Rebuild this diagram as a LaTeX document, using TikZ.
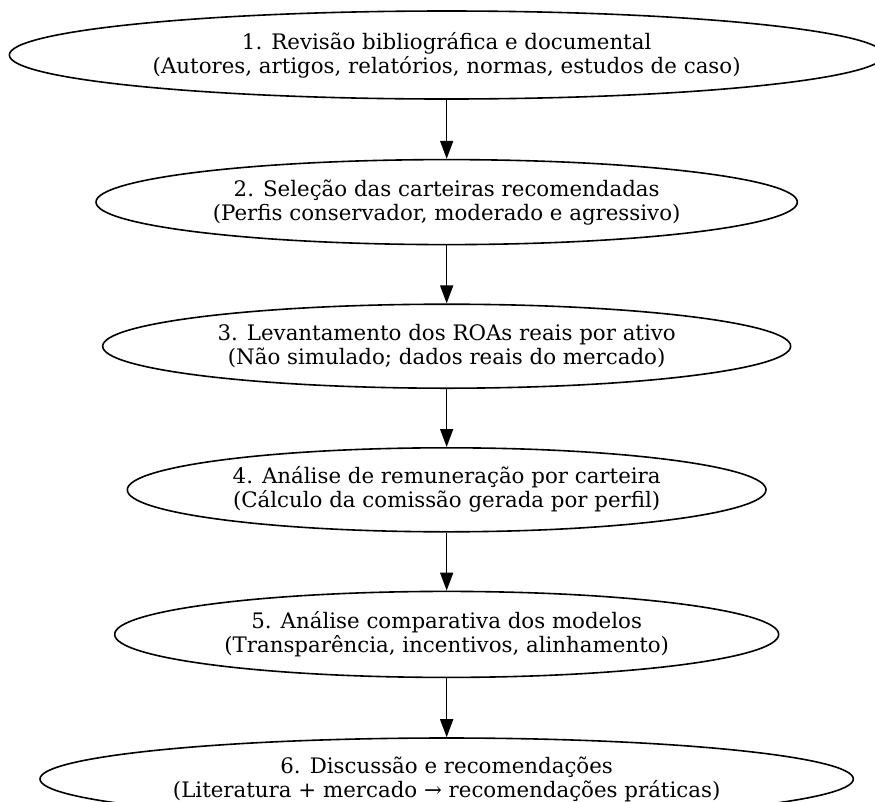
\documentclass[tikz,border=0pt]{standalone}
\usepackage{fontspec}
\setmainfont{DejaVu Serif}
\usetikzlibrary{arrows.meta,positioning,shapes.geometric}

\begin{document}
\begin{tikzpicture}[
    >={Triangle[length=13.5pt, width=9.75pt]},
    node distance=43.5pt,
    phase/.style={draw, ellipse, line width=1.2pt, inner xsep=-40pt, inner ysep=0pt, minimum height=63pt, align=center, font=\fontsize{16pt}{18pt}\selectfont},
    line/.style={->, line width=1.2pt}
]

\useasboundingbox (0,0) rectangle (656.25pt,-600.75pt);

% Etapas da metodologia
\node[phase, minimum width=656pt, minimum height=66pt] (rev) at (335pt,-41.25pt) {1. Revisão bibliográfica e documental\\(Autores, artigos, relatórios, normas, estudos de caso)};
\node[phase, minimum width=526pt, minimum height=63.75pt, below=44.25pt of rev] (sel) {2. Seleção das carteiras recomendadas\\(Perfis conservador, moderado e agressivo)};
\node[phase, minimum width=516pt, below=of sel] (roa) {3. Levantamento dos ROAs reais por ativo\\(Não simulado; dados reais do mercado)};
\node[phase, minimum width=479pt, below=of roa] (rem) {4. Análise de remuneração por carteira\\(Cálculo da comissão gerada por perfil)};
\node[phase, minimum width=498pt, minimum height=64.5pt, below=of rem] (comp) {5. Análise comparativa dos modelos\\(Transparência, incentivos, alinhamento)};
\node[phase, minimum width=610pt, minimum height=61.5pt, below=44.25pt of comp] (disc) {6. Discussão e recomendações\\(Literatura + mercado → recomendações práticas)};

% Setas entre etapas
\draw[line] (rev) -- (sel);
\draw[line] (sel) -- (roa);
\draw[line] (roa) -- (rem);
\draw[line] (rem) -- (comp);
\draw[line] (comp) -- (disc);

\end{tikzpicture}
\end{document}
